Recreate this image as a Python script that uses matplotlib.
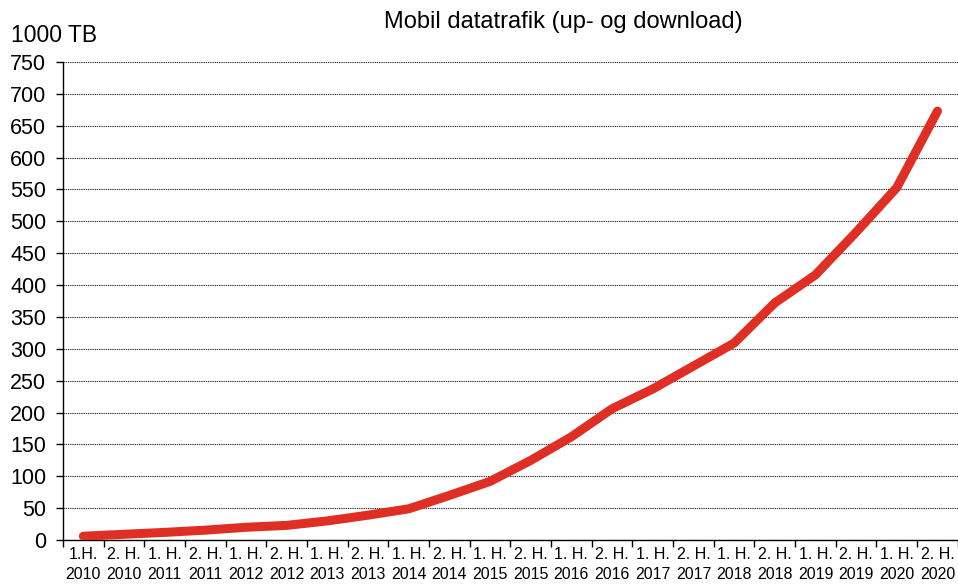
import numpy as np
import matplotlib.pyplot as plt

plt.rcParams['font.family'] = ['Liberation Sans', 'DejaVu Sans']

halvaar = ["1.H.", "2. H.", "1. H.", "2. H.", "1. H.", "2. H.", "1. H.", "2. H.",
           "1. H.", "2. H.", "1. H.", "2. H.", "1. H.", "2. H.", "1. H.", "2. H.",
           "1. H.", "2. H.", "1. H.", "2. H.", "1. H.", "2. H."]
aar = [2010, 2010, 2011, 2011, 2012, 2012, 2013, 2013, 2014, 2014, 2015,
       2015, 2016, 2016, 2017, 2017, 2018, 2018, 2019, 2019, 2020, 2020]
trafik = [6, 9, 12, 15.5, 20, 23, 30, 39, 49, 70, 92, 125, 162, 206,
          237, 273, 309, 372, 416, 483, 553, 673]

labels = [h + "\n" + str(a) for h, a in zip(halvaar, aar)]
x = np.arange(len(trafik))

fig = plt.figure(figsize=(9.58, 5.84), dpi=100)
ax = fig.add_axes([0.0658, 0.0753, 0.934, 0.8185])

ax.plot(x, trafik, color="#DF2F24", lw=6.5, solid_capstyle="round",
        solid_joinstyle="round", zorder=3)

ax.set_xlim(-0.5, len(trafik) - 0.5)
ax.set_ylim(0, 750)
ax.set_yticks(np.arange(0, 751, 50))
ax.yaxis.grid(True, linestyle=(0, (1.2, 0.8)), color="#333333", lw=0.8)
ax.set_axisbelow(True)

ax.set_xticks(x)
ax.set_xticklabels(labels, fontsize=11.5, linespacing=1.45)
ax.set_xticks(np.arange(-0.5, len(trafik)), minor=True)
ax.tick_params(axis="x", which="major", length=0, pad=5)
ax.tick_params(axis="x", which="minor", length=5, width=1, direction="out")
ax.tick_params(axis="y", labelsize=15.5, length=5, width=1, pad=7)

for s in ["top", "right"]:
    ax.spines[s].set_visible(False)
ax.spines["left"].set_linewidth(1)
ax.spines["bottom"].set_linewidth(1)

fig.text(0.588, 0.962, "Mobil datatrafik (up- og download)", ha="center",
         va="center", fontsize=17)
fig.text(0.011, 0.94, "1000 TB", ha="left", va="center", fontsize=16.5)

fig.savefig("out.png", dpi=100)
